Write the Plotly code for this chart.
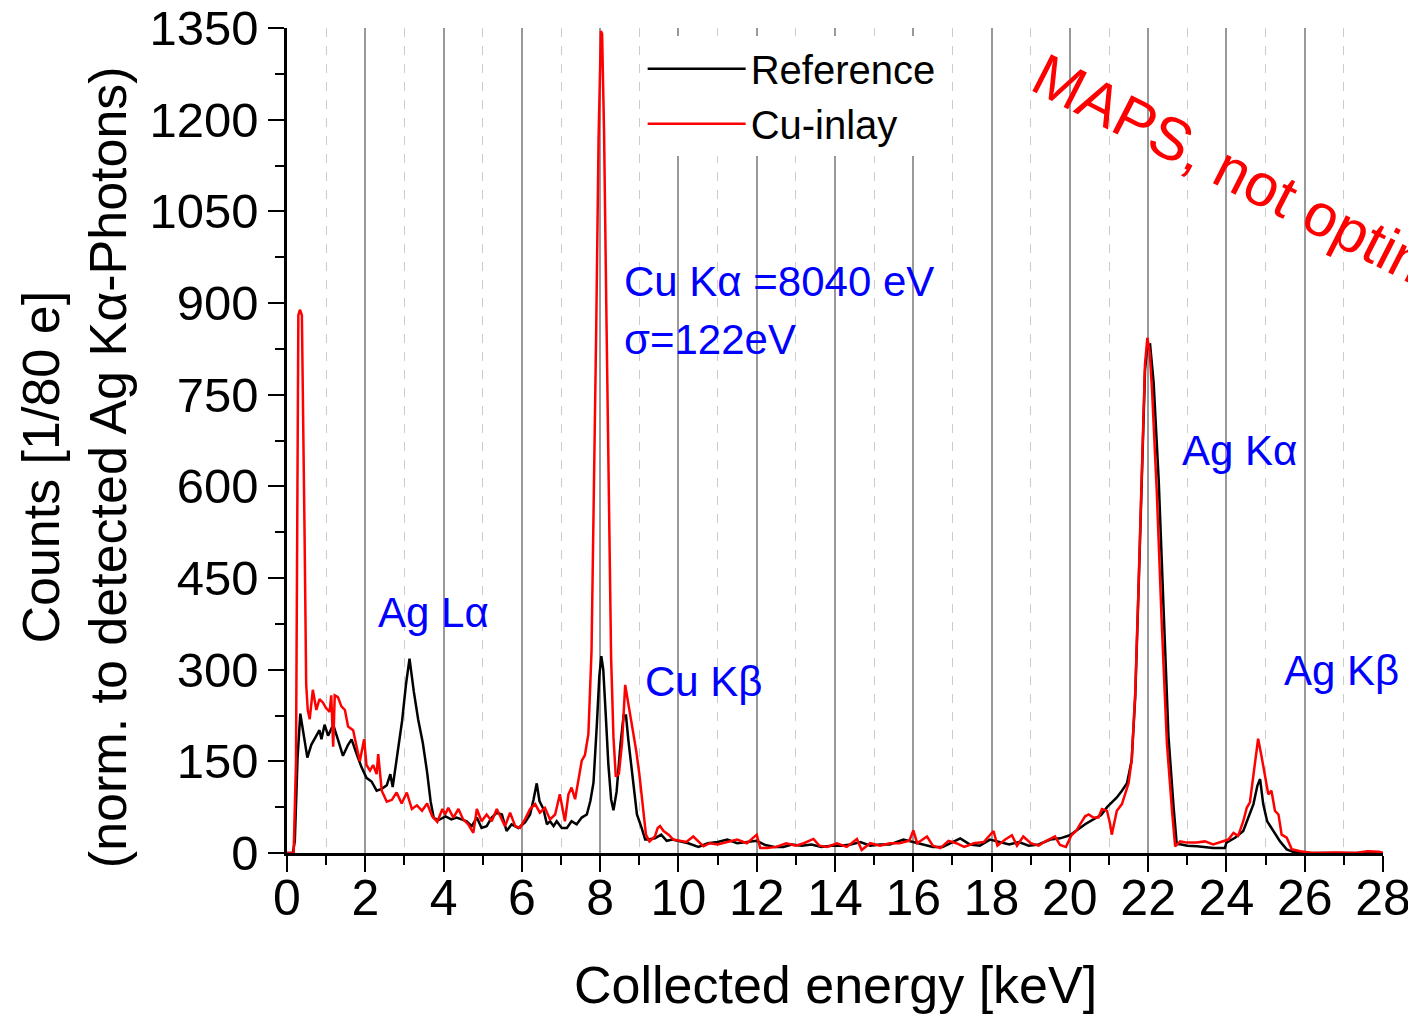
import plotly.graph_objects as go

# ---------------- data ----------------
ref_E = [0, 0.15, 0.2, 0.27, 0.34, 0.43, 0.52, 0.62, 0.75, 0.83, 0.88, 0.96, 1.05, 1.18, 1.3, 1.43,
         1.56, 1.65, 1.78, 1.9, 2.03, 2.16, 2.29, 2.42, 2.55, 2.64, 2.7, 2.81, 2.94, 3.04, 3.13, 3.24,
         3.35, 3.47, 3.58, 3.67, 3.75, 3.88, 4.05, 4.2, 4.33, 4.46, 4.59, 4.72, 4.85, 4.97, 5.1, 5.23,
         5.36, 5.49, 5.61, 5.74, 5.91, 6.08, 6.21, 6.3, 6.38, 6.45, 6.55, 6.64, 6.72, 6.81, 6.89, 7.02,
         7.15, 7.27, 7.4, 7.53, 7.66, 7.75, 7.83, 7.92, 7.98, 8.03, 8.08, 8.14, 8.21, 8.28, 8.34, 8.42,
         8.52, 8.6, 8.66, 8.72, 8.85, 8.94, 9.06, 9.15, 9.23, 9.4, 9.56, 9.7, 9.85,
         10.0, 10.25, 10.51, 10.75, 11.0, 11.25, 11.5, 11.75, 12.0, 12.22, 12.45, 12.68, 12.9, 13.15,
         13.4, 13.65, 13.9, 14.15, 14.4, 14.65, 14.9, 15.15, 15.4, 15.75, 16.0, 16.25, 16.5, 16.75,
         17.03, 17.2, 17.45, 17.7, 17.96, 18.2, 18.45, 18.7, 18.95, 19.2, 19.5, 19.75, 20.0, 20.17,
         20.39, 20.6, 20.8, 20.95, 21.07, 21.2, 21.33, 21.46, 21.58, 21.67, 21.75, 21.84, 21.92, 21.98,
         22.05, 22.14, 22.27, 22.4, 22.52, 22.65, 22.73, 22.85, 23.0, 23.25, 23.5, 23.66, 23.96, 24.0,
         24.22, 24.43, 24.56, 24.69, 24.79, 24.86, 24.94, 25.04, 25.2, 25.37, 25.54, 25.7, 25.9, 28.0]
ref_C = [0, 0, 20, 156, 228, 192, 156, 177, 192, 201, 186, 210, 192, 210, 186, 159,
         177, 186, 162, 141, 123, 117, 102, 105, 111, 129, 108, 156, 216, 276, 318, 264,
         219, 180, 132, 84, 57, 54, 60, 55, 58, 55, 52, 44, 58, 41, 44, 58,
         66, 63, 36, 47, 41, 50, 63, 88, 114, 85, 72, 47, 52, 44, 52, 41,
         41, 52, 47, 58, 63, 85, 115, 215, 290, 322, 300, 230, 145, 88, 70, 100,
         178, 225, 225, 185, 108, 63, 41, 22, 22, 24, 30, 20, 22,
         20, 16, 10, 16, 18, 22, 16, 18, 20, 13, 10, 10, 14, 12,
         14, 10, 12, 12, 14, 18, 12, 14, 14, 22, 18, 14, 10, 10,
         19, 24, 14, 12, 22, 18, 14, 18, 12, 14, 22, 24, 29, 37,
         47, 55, 62, 75, 83, 91, 102, 114, 152, 255, 420, 640, 790, 830,
         832, 770, 610, 390, 190, 75, 15, 14, 12, 11, 9, 8, 8, 17,
         25, 36, 58, 80, 110, 121, 80, 52, 36, 19, 6, 2, 0, 0]

cu_E = [0, 0.17, 0.23, 0.29, 0.33, 0.38, 0.45, 0.49, 0.53, 0.58, 0.66, 0.75, 0.83, 0.92, 1.0, 1.09,
        1.13, 1.18, 1.22, 1.3, 1.39, 1.48, 1.56, 1.69, 1.78, 1.86, 1.97, 2.03, 2.12, 2.2, 2.29, 2.33,
        2.42, 2.55, 2.68, 2.8, 2.93, 3.06, 3.19, 3.32, 3.45, 3.58, 3.71, 3.84, 3.97, 4.04, 4.12, 4.25,
        4.38, 4.5, 4.63, 4.76, 4.85, 4.97, 5.1, 5.23, 5.36, 5.49, 5.57, 5.7, 5.83, 5.95, 6.08, 6.21,
        6.34, 6.46, 6.59, 6.72, 6.85, 6.97, 7.1, 7.19, 7.27, 7.36, 7.44, 7.53, 7.61, 7.7, 7.78, 7.84,
        7.9, 7.96, 8.02, 8.05, 8.1, 8.16, 8.22, 8.28, 8.34, 8.4, 8.48, 8.56, 8.64, 8.72, 8.8, 8.92,
        9.0, 9.09, 9.17, 9.26, 9.4, 9.47, 9.53, 9.62, 9.75, 9.87,
        10.0, 10.2, 10.38, 10.5, 10.64, 10.8, 11.0, 11.25, 11.5, 11.75, 12.0, 12.09, 12.26, 12.5,
        12.75, 13.0, 13.2, 13.45, 13.6, 13.8, 14.05, 14.3, 14.56, 14.68, 14.9, 15.15, 15.4, 15.65,
        15.9, 16.0, 16.1, 16.35, 16.5, 16.69, 16.9, 17.1, 17.3, 17.55, 17.8, 18.05, 18.15, 18.35,
        18.52, 18.65, 18.81, 19.0, 19.2, 19.4, 19.62, 19.75, 19.9, 20.04, 20.17, 20.26, 20.39, 20.48,
        20.6, 20.73, 20.82, 20.95, 21.03, 21.07, 21.2, 21.33, 21.41, 21.5, 21.58, 21.67, 21.75, 21.84,
        21.92, 21.98, 22.04, 22.1, 22.22, 22.35, 22.48, 22.61, 22.69, 22.82, 22.99, 23.24, 23.45, 23.66,
        23.92, 24.05, 24.18, 24.3, 24.43, 24.52, 24.6, 24.69, 24.75, 24.81, 24.9, 24.98, 25.07, 25.15,
        25.24, 25.33, 25.41, 25.54, 25.67, 25.88, 26.2, 26.8, 27.3, 27.6, 27.9, 28.0]
cu_C = [0, 0, 150, 880, 889, 880, 516, 276, 234, 219, 267, 234, 252, 246, 237, 231,
        258, 174, 258, 255, 240, 234, 207, 201, 174, 150, 186, 144, 135, 144, 129, 162,
        102, 84, 87, 99, 81, 99, 72, 78, 69, 81, 60, 51, 72, 63, 74, 58,
        72, 55, 47, 33, 72, 52, 63, 52, 72, 55, 44, 66, 44, 41, 55, 72,
        80, 66, 74, 55, 63, 96, 52, 96, 107, 88, 118, 151, 160, 195, 330, 560,
        860, 1170, 1345, 1340, 1180, 880, 560, 320, 190, 125, 130, 180, 275, 245, 209, 168,
        130, 74, 30, 19, 27, 41, 44, 36, 30, 22,
        20, 18, 27, 20, 11, 16, 14, 18, 22, 16, 30, 8, 8, 10,
        16, 12, 16, 23, 12, 10, 16, 10, 23, 5, 16, 12, 16, 16,
        20, 37, 16, 27, 12, 8, 20, 16, 10, 16, 18, 36, 12, 22,
        29, 12, 27, 16, 12, 20, 27, 13, 10, 29, 37, 47, 60, 63,
        58, 58, 72, 69, 47, 30, 69, 80, 97, 114, 152, 262, 427, 647,
        800, 843, 820, 757, 592, 372, 179, 69, 11, 19, 17, 17, 19, 14,
        19, 22, 33, 28, 52, 74, 83, 124, 157, 187, 157, 129, 96, 102,
        69, 63, 30, 25, 6, 3, 0, 1, 0, 3, 2, 0]

series_names = ["Reference", "Cu-inlay"]
x_ticks = list(range(0, 29, 2))
y_ticks = list(range(0, 1351, 150))

FONT = "Liberation Sans, Arial, sans-serif"
BLUE = "#0000ff"

fig = go.Figure()
fig.add_trace(go.Scatter(x=ref_E, y=ref_C, mode="lines", name=series_names[0],
                         line=dict(color="black", width=2.5)))
fig.add_trace(go.Scatter(x=cu_E, y=cu_C, mode="lines", name=series_names[1],
                         line=dict(color="#ff0000", width=2.5)))

# page body has an 8px margin, so the figure is 8px smaller and margins shifted
fig.update_layout(
    width=1408, height=1006,
    margin=dict(l=279, r=33, t=20, b=161, autoexpand=False),
    paper_bgcolor="white", plot_bgcolor="white",
    font=dict(family=FONT, color="black"),
    showlegend=True,
    legend=dict(x=0.3245, y=0.99, xanchor="left", yanchor="top",
                bgcolor="white", borderwidth=0, font=dict(size=40, family=FONT),
                itemwidth=98, tracegroupgap=0),
    xaxis=dict(range=[0, 28], tickvals=x_ticks, ticks="outside", ticklen=16, tickwidth=2,
               tickcolor="black", showline=True, linewidth=2.5, linecolor="black",
               showgrid=True, gridcolor="#999999", gridwidth=1.5, zeroline=False,
               automargin=False, ticklabeloverflow="allow",
               tickfont=dict(size=50, family=FONT), ticklabelstandoff=-17,
               minor=dict(dtick=1, ticks="outside", ticklen=9, tickwidth=2, tickcolor="black",
                          showgrid=True, gridcolor="#cccccc", griddash="dash", gridwidth=1)),
    yaxis=dict(range=[0, 1350], tickvals=y_ticks, ticks="outside", ticklen=16, tickwidth=2,
               tickcolor="black", showline=True, linewidth=2.5, linecolor="black",
               showgrid=False, zeroline=False, automargin=False, ticklabeloverflow="allow",
               tickfont=dict(size=49, family=FONT), ticklabelstandoff=0,
               minor=dict(dtick=75, ticks="outside", ticklen=9, tickwidth=2, tickcolor="black",
                          showgrid=False)),
)

annots = [
    dict(text="Ag Lα", x=2.27, y=393),
    dict(text="Cu Kα =8040 eV", x=8.55, y=935),
    dict(text="σ=122eV", x=8.55, y=840),
    dict(text="Cu Kβ", x=9.1, y=280),
    dict(text="Ag Kα", x=22.82, y=658),
    dict(text="Ag Kβ", x=25.42, y=298),
]
for a in annots:
    fig.add_annotation(x=a["x"], y=a["y"], text=a["text"], xref="x", yref="y",
                       xanchor="left", yanchor="middle", showarrow=False,
                       font=dict(size=42, color=BLUE, family=FONT))

fig.add_annotation(text="Counts [1/80 e]<br>(norm. to detected Ag Kα-Photons)",
                   xref="paper", yref="paper", x=-0.1935, y=0.4676,
                   xanchor="center", yanchor="middle", textangle=-90, showarrow=False,
                   font=dict(size=52, color="black", family=FONT))

fig.add_annotation(text="Collected energy [keV]", xref="paper", yref="paper",
                   x=0.5, y=-0.1606, xanchor="center", yanchor="middle", showarrow=False,
                   font=dict(size=52, color="black", family=FONT))

fig.add_annotation(text="MAPS, not optimized", xref="paper", yref="paper",
                   x=0.912, y=0.795, xanchor="center", yanchor="middle",
                   textangle=27, showarrow=False,
                   font=dict(size=60, color="#ff0000", family=FONT))

fig.write_html("out.html")
